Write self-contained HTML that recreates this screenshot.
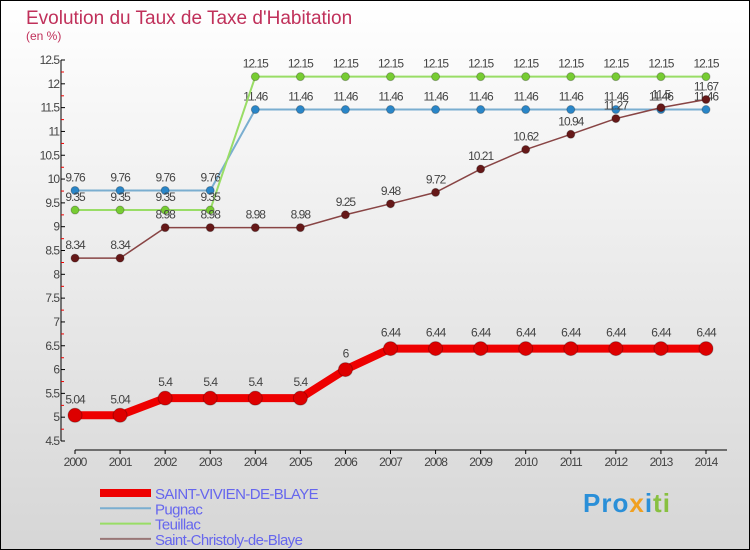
<!DOCTYPE html>
<html><head><meta charset="utf-8"><style>
body{margin:0}
svg{display:block}
text{font-family:"Liberation Sans",sans-serif}
</style></head><body>
<svg width="750" height="550" viewBox="0 0 750 550">
<defs><linearGradient id="bg" x1="0" y1="0" x2="0" y2="1"><stop offset="0" stop-color="#ffffff"/><stop offset="1" stop-color="#d6d6d6"/></linearGradient></defs>
<rect x="0.5" y="0.5" width="749" height="549" fill="url(#bg)" stroke="#000"/>
<text x="26" y="24" font-size="19" fill="#c0305a">Evolution du Taux de Taxe d'Habitation</text>
<text x="26" y="40" font-size="12" fill="#c0305a">(en %)</text>
<g id="axes"></g>
<g id="series"></g>
<g id="legend"></g>
</svg>
<script>
const years=[2000,2001,2002,2003,2004,2005,2006,2007,2008,2009,2010,2011,2012,2013,2014];
const yTicks=[4.5,5,5.5,6,6.5,7,7.5,8,8.5,9,9.5,10,10.5,11,11.5,12,12.5];
const sv=[5.04,5.04,5.4,5.4,5.4,5.4,6,6.44,6.44,6.44,6.44,6.44,6.44,6.44,6.44];
const pugnac=[9.76,9.76,9.76,9.76,11.46,11.46,11.46,11.46,11.46,11.46,11.46,11.46,11.46,11.46,11.46];
const teuillac=[9.35,9.35,9.35,9.35,12.15,12.15,12.15,12.15,12.15,12.15,12.15,12.15,12.15,12.15,12.15];
const christoly=[8.34,8.34,8.98,8.98,8.98,8.98,9.25,9.48,9.72,10.21,10.62,10.94,11.27,11.5,11.67];
const NS="http://www.w3.org/2000/svg";
const xs=i=>75+i*(706-75)/14;
const ys=v=>441-(v-4.5)*(441-60)/8;
function mk(tag,attrs,parent,txt){const e=document.createElementNS(NS,tag);for(const k in attrs)e.setAttribute(k,attrs[k]);if(txt!==undefined)e.textContent=txt;parent.appendChild(e);return e;}
const ax=document.getElementById('axes');
let e=mk('line',{x1:61,y1:60,x2:61,y2:441,stroke:'#000'},ax);


e=mk('line',{x1:75,y1:450,x2:727,y2:450,stroke:'#000'},ax);


yTicks.forEach((t,k)=>{const y=ys(t);
 mk('line',{x1:61,y1:y,x2:65,y2:y,stroke:'#000'},ax);
 if(k>0) mk('line',{x1:61,y1:y+12,x2:64,y2:y+12,stroke:'#e00'},ax);
 const l=mk('text',{x:59,y:y+4,'font-size':12,fill:'#444','text-anchor':'end','letter-spacing':'-1'},ax,String(t));
 
 
});
years.forEach((yr,i)=>{const x=xs(i);
 mk('line',{x1:x,y1:450,x2:x,y2:454,stroke:'#000'},ax);
 const l=mk('text',{x:x,y:466,'font-size':12,fill:'#444','text-anchor':'middle','letter-spacing':'-1'},ax,String(yr));
 
 
});
const sg=document.getElementById('series');
function series(vals,color,dot,w,r,name){
 const g=mk('g',{},sg);
 
 
 mk('polyline',{points:vals.map((v,i)=>xs(i)+','+ys(v)).join(' '),fill:'none',stroke:color,'stroke-width':w},g);
 vals.forEach((v,i)=>{
  const c=mk('circle',{cx:xs(i),cy:ys(v),r:r,fill:dot,stroke:'rgba(0,0,0,0.25)'},g);
  
  
  const t=mk('text',{x:xs(i),y:ys(v)-r-5,'font-size':12,fill:'#444','text-anchor':'middle','letter-spacing':'-1'},g,String(v));
  
  
 });
}
series(pugnac,'#7aaed0','#2a86c8',2,4,'pugnac-series');
series(teuillac,'#99dd66','#77cc33',2,4,'teuillac-series');
series(christoly,'#884444','#661818',1.5,4,'saint-christoly-series');
series(sv,'#ee0000','#dd0000',8,7,'saint-vivien-series');
const lg=document.getElementById('legend');
[['SAINT-VIVIEN-DE-BLAYE','#ee0000',8],['Pugnac','#7aaed0',2],['Teuillac','#99dd66',2],['Saint-Christoly-de-Blaye','#997777',2]].forEach((d,i)=>{
 const y=493+i*15.3;
 const g=mk('g',{},lg);
 
 
 mk('line',{x1:100,y1:y,x2:151,y2:y,stroke:d[1],'stroke-width':d[2]},g);
 mk('text',{x:155,y:y+6,'font-size':15,fill:'#6666ee','letter-spacing':'-0.6'},g,d[0]);
});
</script>
<div style="position:absolute;left:583px;top:488px;font:bold 26px 'Liberation Sans',sans-serif;letter-spacing:1px"><span style="color:#2a8fd8">Pro</span><span style="color:#f0a020">x</span><span style="color:#2a8fd8">i</span><span style="color:#88c040">ti</span></div>
</body></html>
